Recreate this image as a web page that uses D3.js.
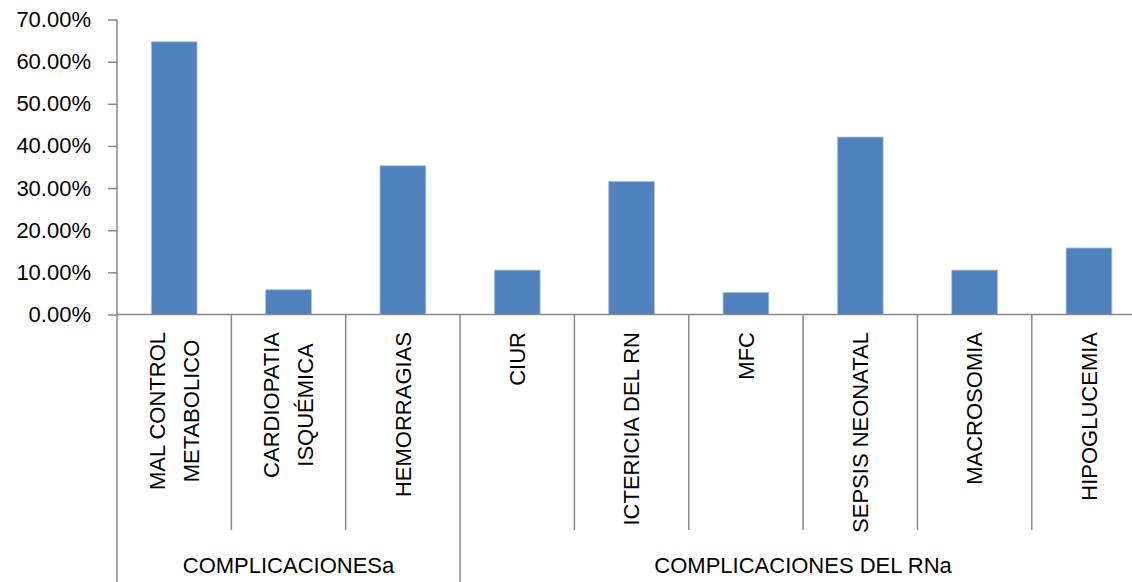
<!DOCTYPE html>
<html>
<head>
<meta charset="utf-8">
<script src="https://cdn.jsdelivr.net/npm/d3@7"></script>
<style>
  html, body { margin: 0; padding: 0; background: #fff; }
  svg { display: block; }
  text { font-family: "Liberation Sans", Arial, sans-serif; fill: #000; }
</style>
</head>
<body>
<svg id="chart" width="1132" height="582"></svg>
<script>
const categories = [
  "MAL CONTROL\nMETABOLICO",
  "CARDIOPATIA\nISQUÉMICA",
  "HEMORRAGIAS",
  "CIUR",
  "ICTERICIA DEL RN",
  "MFC",
  "SEPSIS NEONATAL",
  "MACROSOMIA",
  "HIPOGLUCEMIA"
];
const values = [0.6471, 0.0588, 0.3529, 0.1053, 0.3158, 0.0526, 0.4211, 0.1053, 0.1579];
const groups = ["COMPLICACIONESa", "COMPLICACIONES DEL RNa"];
const groupSizes = [3, 6];
const yTicks = [0, 0.1, 0.2, 0.3, 0.4, 0.5, 0.6, 0.7];

(function () {
const svg = d3.select("#chart");
const mLeft = 117, mTop = 19.5, mBottom = 314.5, step = 114.35;
const mRight = mLeft + step * categories.length;

const x = d3.scaleBand()
  .domain(categories)
  .range([mLeft, mRight])
  .paddingInner(0.6)
  .paddingOuter(0.3);

const y = d3.scaleLinear().domain([0, 0.7]).range([mBottom, mTop]);

const axisColor = "#898989";

// bars
svg.append("g").selectAll("rect")
  .data(categories)
  .join("rect")
  .attr("x", d => x(d))
  .attr("width", x.bandwidth())
  .attr("y", (d, i) => y(values[i]))
  .attr("height", (d, i) => y(0) - y(values[i]))
  .attr("fill", "#4F81BD")
  .attr("stroke", "#a9c0de")
  .attr("stroke-width", 0.8);

// y axis
const yAxis = d3.axisLeft(y)
  .tickValues(yTicks)
  .tickFormat(d3.format(".2%"))
  .tickSize(9)
  .tickSizeOuter(0)
  .tickPadding(17);
const ya = svg.append("g").attr("transform", `translate(${mLeft},0)`).call(yAxis);
ya.select(".domain").remove();
ya.selectAll(".tick line").attr("stroke", axisColor).attr("stroke-width", 1.5);
ya.selectAll(".tick text")
  .style("font-size", "22px")
  .style("font-family", "'Liberation Sans', Arial, sans-serif")
  .attr("fill", "#000");

// y axis line extends to bottom of group area
svg.append("line")
  .attr("x1", mLeft).attr("x2", mLeft)
  .attr("y1", mTop).attr("y2", 582)
  .attr("stroke", axisColor).attr("stroke-width", 1.5);

// x axis line
svg.append("line")
  .attr("x1", mLeft).attr("x2", mRight)
  .attr("y1", mBottom).attr("y2", mBottom)
  .attr("stroke", axisColor).attr("stroke-width", 1.5);

// separators
const groupBounds = new Set([0]);
let acc = 0;
groupSizes.forEach(s => { acc += s; groupBounds.add(acc); });
for (let i = 1; i <= categories.length; i++) {
  const xx = mLeft + i * x.step();
  const isGroup = groupBounds.has(i);
  svg.append("line")
    .attr("x1", xx).attr("x2", xx)
    .attr("y1", mBottom).attr("y2", isGroup ? 582 : 530)
    .attr("stroke", axisColor).attr("stroke-width", 1.5);
}

// category labels (rotated), block top-aligned, lines centered
const lab = svg.append("g");
categories.forEach((c) => {
  const lines = c.split("\n");
  const cx = x(c) + x.bandwidth() / 2;
  const lh = 34;
  const t = lab.append("text")
    .attr("transform", `translate(${cx},332) rotate(-90)`)
    .attr("text-anchor", "middle")
    .style("font-size", "22px");
  const spans = lines.map((ln, j) => {
    const off = (j - (lines.length - 1) / 2) * lh;
    return t.append("tspan")
      .attr("y", off)
      .attr("dy", "0.35em")
      .text(ln);
  });
  const maxLen = d3.max(spans, s => s.node().getComputedTextLength());
  spans.forEach(s => s.attr("x", -maxLen / 2));
});

// group labels
let start = 0;
groups.forEach((g, gi) => {
  const x0 = mLeft + start * x.step();
  const x1 = mLeft + (start + groupSizes[gi]) * x.step();
  svg.append("text")
    .attr("x", (x0 + x1) / 2)
    .attr("y", 573)
    .attr("text-anchor", "middle")
    .style("font-size", "22px")
    .text(g);
  start += groupSizes[gi];
});
})();
</script>
</body>
</html>
